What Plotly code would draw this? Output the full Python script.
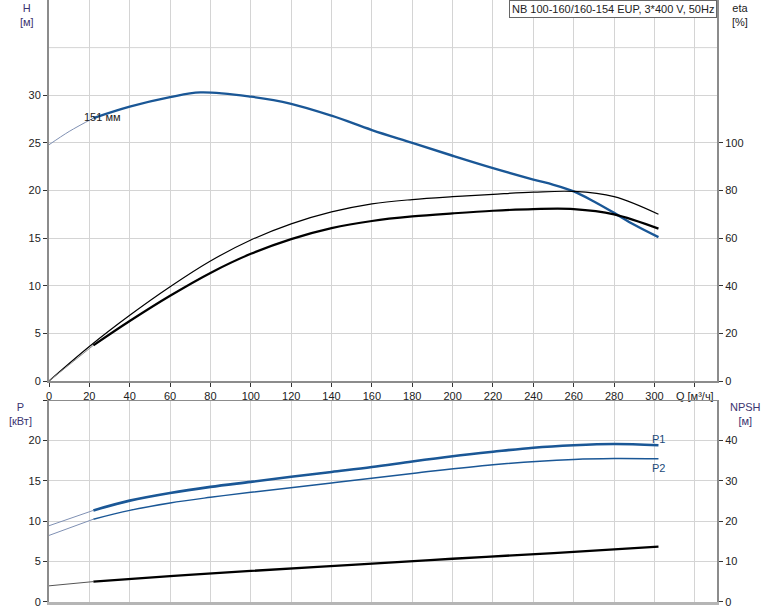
import plotly.graph_objects as go

# ---------------- data ----------------
q_head = [0, 10, 22, 40, 60, 75, 100, 120, 140, 160, 180, 200, 220, 240, 250, 260, 270, 280, 290, 302]
head = [24.8, 26.2, 27.6, 28.8, 29.8, 30.3, 29.85, 29.1, 27.85, 26.35, 25.0, 23.65, 22.35, 21.15, 20.6, 19.9, 18.85, 17.65, 16.4, 15.1]

q_eta1 = [0, 20, 40, 60, 80, 100, 120, 140, 160, 180, 200, 220, 240, 260, 280, 302]
eta1 = [0, 14.5, 27.6, 39.6, 50.4, 59.2, 66.0, 71.0, 74.4, 76.2, 77.4, 78.4, 79.3, 79.6, 77.4, 70.0]

q_eta2 = [0, 22, 40, 60, 80, 100, 120, 140, 160, 180, 200, 220, 240, 260, 280, 302]
eta2 = [0, 15.0, 25.2, 35.8, 45.4, 53.4, 59.6, 64.2, 67.2, 69.1, 70.4, 71.5, 72.2, 72.2, 70.0, 64.0]

q_p1 = [0, 22, 40, 60, 80, 100, 120, 140, 160, 180, 200, 220, 240, 260, 280, 302]
p1 = [9.44, 11.34, 12.55, 13.5, 14.25, 14.87, 15.5, 16.1, 16.7, 17.4, 18.05, 18.6, 19.1, 19.4, 19.55, 19.4]

q_p2 = [0, 22, 40, 60, 80, 100, 140, 180, 220, 260, 280, 302]
p2 = [8.24, 10.25, 11.34, 12.26, 12.96, 13.58, 14.74, 15.9, 17.0, 17.64, 17.76, 17.72]

q_npsh = [0, 22, 60, 100, 150, 200, 250, 302]
npsh = [4.0, 5.05, 6.4, 7.7, 9.2, 10.7, 12.1, 13.7]

q_ticks = [0, 20, 40, 60, 80, 100, 120, 140, 160, 180, 200, 220, 240, 260, 280, 300, 320]
q_ticktext = [str(v) for v in q_ticks[:-1]] + ["Q [м³/ч]"]
h_ticks = [0, 5, 10, 15, 20, 25, 30]
eta_ticks = [0, 20, 40, 60, 80, 100]
p_ticks = [0, 5, 10, 15, 20]
npsh_ticks = [0, 10, 20, 30, 40]

title_text = "NB 100-160/160-154 EUP, 3*400 V, 50Hz"
curve_label = "151 мм"
Q_START = 22  # start of the thick (operating) part

BLUE = "#1a5796"
THIN_BLUE = "#7f90b3"
FONT = "Liberation Sans, Arial, sans-serif"
GRID = "#d4d4d4"
AXIS = "#8c8c8c"


def split(q, v):
    thin_q = [a for a in q if a <= Q_START]
    thin_v = [b for a, b in zip(q, v) if a <= Q_START]
    thick_q = [a for a in q if a >= Q_START]
    thick_v = [b for a, b in zip(q, v) if a >= Q_START]
    return thin_q, thin_v, thick_q, thick_v


fig = go.Figure()


def add(q, v, xa, ya, thin_color, thick_color, thin_w, thick_w, split_it=True):
    if split_it:
        tq, tv, kq, kv = split(q, v)
        if len(tq) >= 2:
            fig.add_trace(go.Scatter(x=tq, y=tv, xaxis=xa, yaxis=ya, mode="lines",
                                     line=dict(color=thin_color, width=thin_w, shape="spline"),
                                     hoverinfo="skip", showlegend=False))
        fig.add_trace(go.Scatter(x=kq, y=kv, xaxis=xa, yaxis=ya, mode="lines",
                                 line=dict(color=thick_color, width=thick_w, shape="spline"),
                                 hoverinfo="skip", showlegend=False))
    else:
        fig.add_trace(go.Scatter(x=q, y=v, xaxis=xa, yaxis=ya, mode="lines",
                                 line=dict(color=thick_color, width=thick_w, shape="spline"),
                                 hoverinfo="skip", showlegend=False))


# top plot
add(q_eta1, eta1, "x", "y3", "#000", "#000", 1, 1.2, split_it=False)
add(q_eta2, eta2, "x", "y3", "#888", "#000", 1, 2.2)
add(q_head, head, "x", "y", THIN_BLUE, BLUE, 1, 2.4)
# bottom plot
add(q_p1, p1, "x2", "y2", THIN_BLUE, BLUE, 1, 2.6)
add(q_p2, p2, "x2", "y2", THIN_BLUE, BLUE, 1, 1.5)
add(q_npsh, npsh, "x2", "y4", "#555", "#000", 1, 2.4)

tickfont = dict(family=FONT, size=11, color="#222")
top_dom = [0.3671, 1.0]
bot_dom = [0.0, 0.3355]

fig.update_layout(
    width=774, height=611,
    margin=dict(l=49, r=57, t=0, b=9, autoexpand=False),
    paper_bgcolor="white", plot_bgcolor="white",
    font=dict(family=FONT, size=11, color="#222"),
    showlegend=False,
    xaxis=dict(domain=[0, 1], anchor="y", range=[0, 331], tickmode="array",
               tickvals=q_ticks, ticktext=q_ticktext, ticks="outside", ticklen=4,
               tickcolor="#333", showgrid=True, gridcolor=GRID, gridwidth=1,
               showline=True, linecolor=AXIS, linewidth=2, zeroline=False,
               tickfont=tickfont, automargin=False),
    yaxis=dict(domain=top_dom, anchor="x", range=[0, 40], tickmode="array",
               tickvals=h_ticks, ticks="outside", ticklen=4, tickcolor="#333",
               showgrid=True, gridcolor=GRID, showline=True, linecolor=AXIS,
               linewidth=2, zeroline=False, tickfont=tickfont, automargin=False),
    yaxis3=dict(overlaying="y", side="right", anchor="x", range=[0, 160],
                tickmode="array", tickvals=eta_ticks, ticks="outside", ticklen=4,
                tickcolor="#333", showgrid=False, showline=True, linecolor=AXIS,
                linewidth=2, zeroline=False, tickfont=tickfont, automargin=False),
    xaxis2=dict(domain=[0, 1], anchor="y2", range=[0, 331], tickmode="array",
                tickvals=q_ticks, showticklabels=False, ticks="",
                showgrid=True, gridcolor=GRID, showline=True, linecolor="#b5b5b5",
                linewidth=3, mirror=False, zeroline=False, automargin=False),
    yaxis2=dict(domain=bot_dom, anchor="x2", range=[0, 25], tickmode="array",
                tickvals=p_ticks + [25], ticktext=[str(v) for v in p_ticks] + [""],
                ticks="outside", ticklen=4, tickcolor="#333",
                showgrid=True, gridcolor=GRID, showline=True, linecolor=AXIS,
                linewidth=2, zeroline=False, tickfont=tickfont, automargin=False),
    yaxis4=dict(overlaying="y2", side="right", anchor="x2", range=[0, 50],
                tickmode="array", tickvals=npsh_ticks, ticks="outside", ticklen=4,
                tickcolor="#333", showgrid=False, showline=True, linecolor=AXIS,
                linewidth=2, zeroline=False, tickfont=tickfont, automargin=False),
)

# extra gridline at H=35 and top border of the lower plot
fig.add_shape(type="line", xref="x domain", yref="y", x0=0, x1=1, y0=35, y1=35,
              line=dict(color=GRID, width=1), layer="below")
fig.add_shape(type="line", xref="x2 domain", yref="y2", x0=0, x1=1, y0=25, y1=25,
              line=dict(color=AXIS, width=2))

ann = []
# title box
ann.append(dict(xref="paper", yref="paper", x=1, y=1, xanchor="right", yanchor="top",
                text=title_text, showarrow=False, bordercolor="#666", borderwidth=1,
                borderpad=2, bgcolor="white", font=dict(family=FONT, size=11, color="#222")))
# axis titles
ann.append(dict(xref="paper", yref="paper", x=-0.033, y=1.0, xanchor="center", yanchor="top",
                text="H<br>[м]", showarrow=False, align="center",
                font=dict(family=FONT, size=11, color="#3b3470")))
ann.append(dict(xref="paper", yref="paper", x=1.034, y=1.0, xanchor="center", yanchor="top",
                text="eta<br>[%]", showarrow=False, align="center",
                font=dict(family=FONT, size=11, color="#222")))
ann.append(dict(xref="paper", yref="paper", x=-0.043, y=bot_dom[1] + 0.002, xanchor="center",
                yanchor="top", text="P<br>[кВт]", showarrow=False, align="center",
                font=dict(family=FONT, size=11, color="#3b3470")))
ann.append(dict(xref="paper", yref="paper", x=1.042, y=bot_dom[1] + 0.002, xanchor="center",
                yanchor="top", text="NPSH<br>[м]", showarrow=False, align="center",
                font=dict(family=FONT, size=11, color="#3b3470")))
# curve labels
ann.append(dict(xref="x", yref="y", x=q_head[2] - 4, y=head[2] + 0.15, xanchor="left",
                yanchor="middle", xshift=-3, text=curve_label, showarrow=False,
                font=dict(family=FONT, size=11, color="#222")))
ann.append(dict(xref="x2", yref="y2", x=q_p1[-1], y=p1[-1], xanchor="center",
                yanchor="bottom", yshift=-2, text="P1", showarrow=False,
                font=dict(family=FONT, size=11, color="#1a4a7a")))
ann.append(dict(xref="x2", yref="y2", x=q_p2[-1], y=p2[-1], xanchor="center",
                yanchor="top", yshift=-1, text="P2", showarrow=False,
                font=dict(family=FONT, size=11, color="#1a4a7a")))
fig.update_layout(annotations=ann)

fig.write_html(
    "out.html",
    config={"displayModeBar": False},
    post_script="document.body.style.margin='0';document.body.style.padding='0';"
                "document.body.style.overflow='hidden';",
)
